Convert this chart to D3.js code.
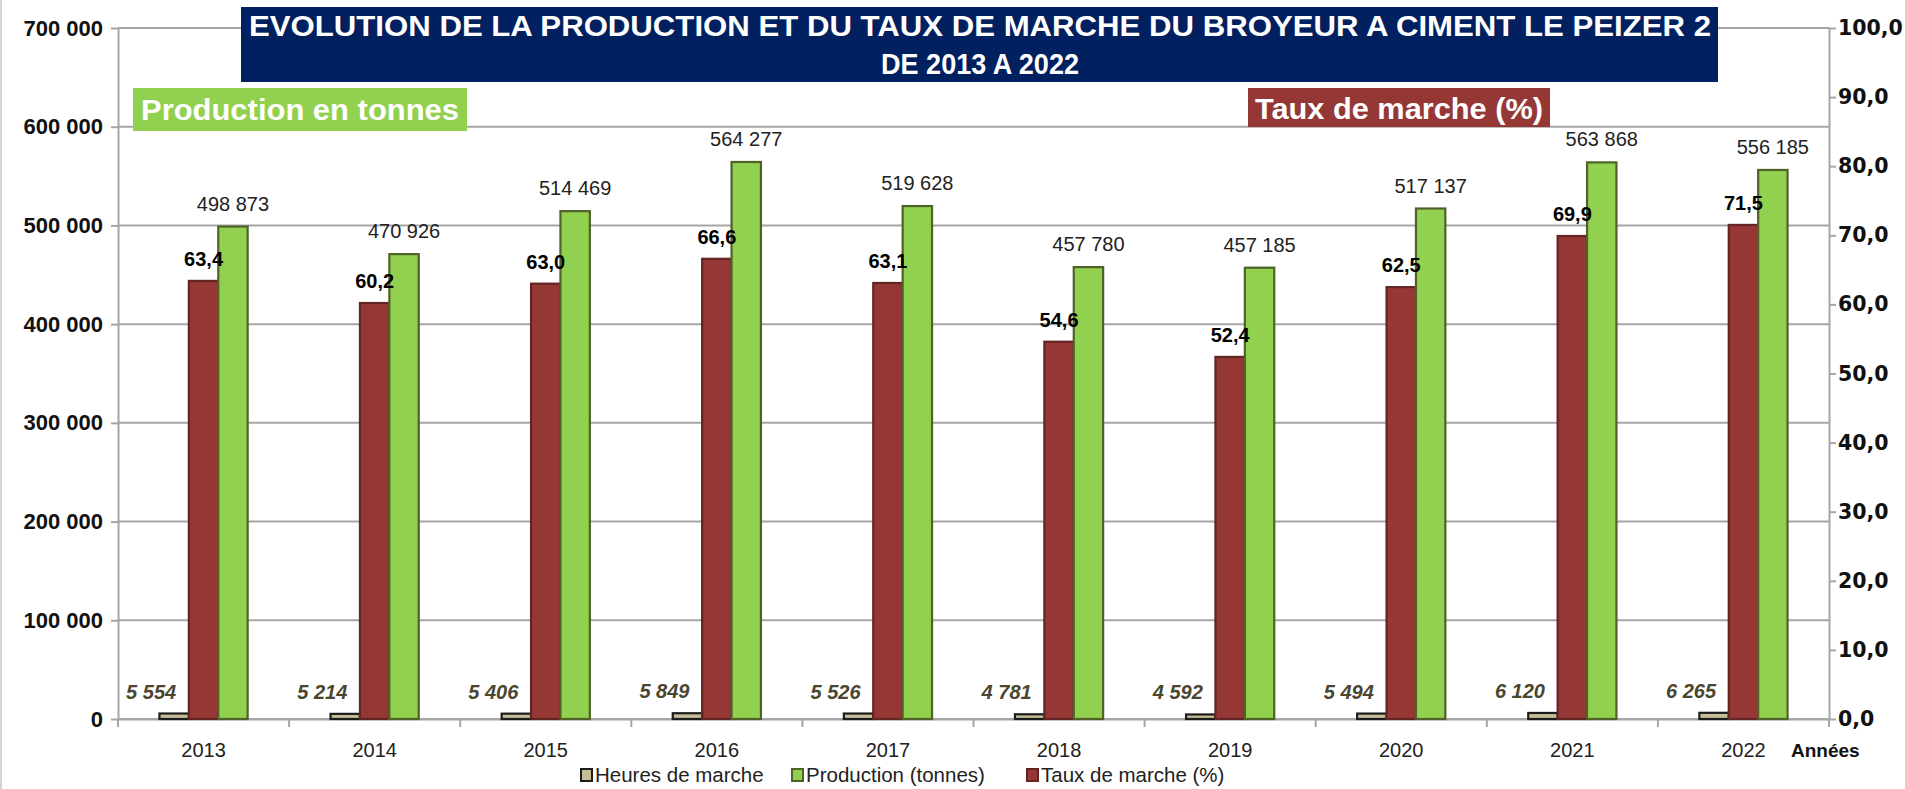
<!DOCTYPE html>
<html>
<head>
<meta charset="utf-8">
<script src="https://cdn.jsdelivr.net/npm/d3@7"></script>
<style>
  body { margin: 0; background: #fff; }
  svg { display: block; font-family: "Liberation Sans", Arial, sans-serif; }
</style>
</head>
<body>
<div id="chart"></div>
<script>
// data
const years = ["2013", "2014", "2015", "2016", "2017", "2018", "2019", "2020", "2021", "2022"];
const heures = [5554, 5214, 5406, 5849, 5526, 4781, 4592, 5494, 6120, 6265];
const production = [498873, 470926, 514469, 564277, 519628, 457780, 457185, 517137, 563868, 556185];
const taux = [63.4, 60.2, 63.0, 66.6, 63.1, 54.6, 52.4, 62.5, 69.9, 71.5];
const leftTicks = [0, 100000, 200000, 300000, 400000, 500000, 600000, 700000];
const rightTicks = [0, 10, 20, 30, 40, 50, 60, 70, 80, 90, 100];
const barSeries = ["heures", "taux", "production"];
const legendNames = ["Heures de marche", "Production (tonnes)", "Taux de marche (%)"];
const titleLines = ["EVOLUTION DE LA PRODUCTION ET DU TAUX DE MARCHE DU BROYEUR A CIMENT LE PEIZER 2", "DE 2013 A 2022"];

const fill = {heures: "#c4bd97", taux: "#953735", production: "#92d050"};
const edge = {heures: "#1c1c1c", taux: "#632523", production: "#4f6228"};

// set the dimensions and margins of the graph
var margin = {top: 28, right: 76, bottom: 70, left: 118},
    width = 1905 - margin.left - margin.right,
    height = 789 - margin.top - margin.bottom;

var root = d3.select("#chart")
  .append("svg")
    .attr("width", 1905)
    .attr("height", 789);

// faint border on the left edge
root.append("line")
  .attr("x1", 1).attr("x2", 1).attr("y1", 0).attr("y2", 789)
  .attr("stroke", "#d4d4d4").attr("stroke-width", 2);

var svg = root.append("g")
  .attr("transform", "translate(" + margin.left + "," + margin.top + ")");

var fr = d3.formatLocale({decimal: ",", thousands: " ", grouping: [3], currency: ["", " €"]});
var intFormat = fr.format(",d");
var pctFormat = fr.format(".1f");

var rows = years.map((y, i) => ({year: y, heures: heures[i], production: production[i], taux: taux[i]}));

// scales
var x0 = d3.scaleBand().domain(years).range([0, width]).padding(0);
var x1 = d3.scaleBand().domain(barSeries).range([0, x0.bandwidth()]).paddingInner(0).paddingOuter(1.41);
var yLeft = d3.scaleLinear().domain([0, 700000]).range([height, 0]);
var yRight = d3.scaleLinear().domain([0, 100]).range([height, 0]);

function yOf(key, v) { return key === "taux" ? yRight(v) : yLeft(v); }

// gridlines
svg.append("g")
  .selectAll("line")
  .data(leftTicks)
  .enter()
  .append("line")
    .attr("x1", 0).attr("x2", width)
    .attr("y1", d => yLeft(d)).attr("y2", d => yLeft(d))
    .attr("stroke", "#a6a6a6")
    .attr("stroke-width", 2);

// left axis
var gl = svg.append("g")
  .call(d3.axisLeft(yLeft).tickValues(leftTicks).tickSize(7).tickSizeOuter(0).tickPadding(8).tickFormat(intFormat));
gl.selectAll("line, path").attr("stroke", "#a6a6a6").attr("stroke-width", 2);
gl.selectAll("text")
  .style("font-family", "'Liberation Sans', Arial, sans-serif")
  .style("font-weight", "bold")
  .style("font-size", "22px")
  .attr("fill", "#111");

// right axis
var gr = svg.append("g")
  .attr("transform", "translate(" + width + ",0)")
  .call(d3.axisRight(yRight).tickValues(rightTicks).tickSize(7).tickSizeOuter(0).tickPadding(2).tickFormat(pctFormat));
gr.selectAll("line, path").attr("stroke", "#a6a6a6").attr("stroke-width", 2);
gr.selectAll("text")
  .style("font-family", "'DejaVu Sans', Verdana, sans-serif")
  .style("font-weight", "bold")
  .style("font-size", "20.5px")
  .attr("fill", "#111");

// x axis
var gx = svg.append("g")
  .attr("transform", "translate(0," + height + ")")
  .call(d3.axisBottom(x0).tickSize(0).tickPadding(24));
gx.select(".domain").attr("stroke", "#a6a6a6").attr("stroke-width", 2);
gx.selectAll("text")
  .style("font-family", "'Liberation Sans', Arial, sans-serif")
  .style("font-size", "20px")
  .attr("fill", "#222");
// category boundary ticks
gx.selectAll(".bound")
  .data(years.concat([null]))
  .enter()
  .append("line")
    .attr("class", "bound")
    .attr("x1", d => d === null ? width : x0(d))
    .attr("x2", d => d === null ? width : x0(d))
    .attr("y1", 0).attr("y2", 8)
    .attr("stroke", "#a6a6a6")
    .attr("stroke-width", 2);

svg.append("text")
  .attr("x", 1791 - margin.left)
  .attr("y", 757 - margin.top)
  .style("font-weight", "bold")
  .style("font-size", "19px")
  .attr("fill", "#111")
  .text("Années");

// bars
var groups = svg.selectAll(".grp")
  .data(rows)
  .enter()
  .append("g")
    .attr("class", "grp")
    .attr("transform", d => "translate(" + x0(d.year) + ",0)");

groups.selectAll("rect")
  .data(d => barSeries.map(k => ({key: k, value: d[k]})))
  .enter()
  .append("rect")
    .attr("x", d => x1(d.key))
    .attr("width", x1.bandwidth())
    .attr("y", d => yOf(d.key, d.value))
    .attr("height", d => height - yOf(d.key, d.value))
    .attr("fill", d => fill[d.key])
    .attr("stroke", d => edge[d.key])
    .attr("stroke-width", 2.2);

// labels
groups.append("text")
  .attr("x", x1("production") + x1.bandwidth() / 2)
  .attr("y", d => yLeft(d.production) - 16)
  .attr("text-anchor", "middle")
  .style("font-size", "20px")
  .attr("fill", "#222")
  .text(d => intFormat(d.production));

groups.append("text")
  .attr("x", x1("taux") + x1.bandwidth() / 2)
  .attr("y", d => yRight(d.taux) - 15)
  .attr("text-anchor", "middle")
  .style("font-size", "20px")
  .style("font-weight", "bold")
  .attr("fill", "#000")
  .text(d => pctFormat(d.taux));

groups.append("text")
  .attr("x", x1("heures") + x1.bandwidth() / 2 - 23)
  .attr("y", d => yLeft(d.heures) - 15)
  .attr("text-anchor", "middle")
  .style("font-size", "20px")
  .style("font-weight", "bold")
  .style("font-style", "italic")
  .attr("fill", "#4a4630")
  .text(d => intFormat(d.heures));

// title box
root.append("rect")
  .attr("x", 241).attr("y", 7).attr("width", 1477).attr("height", 75)
  .attr("fill", "#002060");
root.selectAll(".title")
  .data(titleLines)
  .enter()
  .append("text")
    .attr("class", "title")
    .attr("x", 980)
    .attr("y", (d, i) => i === 0 ? 36 : 74)
    .attr("text-anchor", "middle")
    .style("font-size", "29px")
    .style("font-weight", "bold")
    .attr("fill", "#fff")
    .attr("textLength", (d, i) => i === 0 ? 1462 : 198)
    .attr("lengthAdjust", "spacingAndGlyphs")
    .text(d => d);

// axis caption boxes
root.append("rect")
  .attr("x", 133).attr("y", 88).attr("width", 334).attr("height", 43)
  .attr("fill", "#92d050");
root.append("text")
  .attr("x", 141).attr("y", 120)
  .style("font-size", "30px").style("font-weight", "bold")
  .attr("fill", "#fff")
  .attr("textLength", 318).attr("lengthAdjust", "spacingAndGlyphs")
  .text("Production en tonnes");

root.append("rect")
  .attr("x", 1248).attr("y", 88).attr("width", 302).attr("height", 39)
  .attr("fill", "#953735");
root.append("text")
  .attr("x", 1255).attr("y", 119)
  .style("font-size", "30px").style("font-weight", "bold")
  .attr("fill", "#fff")
  .attr("textLength", 288).attr("lengthAdjust", "spacingAndGlyphs")
  .text("Taux de marche (%)");

// legend
var legendKeys = ["heures", "production", "taux"];
var legendX = [581, 792, 1027];
var lg = root.selectAll(".lg")
  .data(legendNames)
  .enter()
  .append("g")
    .attr("class", "lg")
    .attr("transform", (d, i) => "translate(" + legendX[i] + ",775)");
lg.append("rect")
  .attr("x", 0).attr("y", -6).attr("width", 11).attr("height", 12)
  .attr("fill", (d, i) => fill[legendKeys[i]])
  .attr("stroke", (d, i) => edge[legendKeys[i]])
  .attr("stroke-width", 2);
lg.append("text")
  .attr("x", 14).attr("y", 0)
  .attr("dy", "0.35em")
  .style("font-size", "20.5px")
  .attr("fill", "#222")
  .text(d => d);
</script>
</body>
</html>
